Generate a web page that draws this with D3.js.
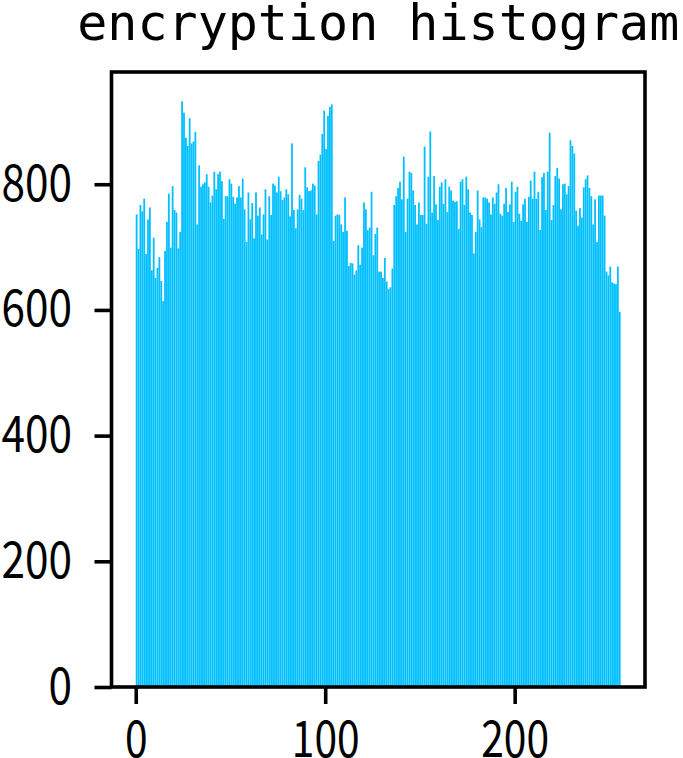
<!DOCTYPE html>
<html>
    <head>
        <meta charset="utf-8">
        <script src="https://d3js.org/d3.v7.min.js"></script>
        <style>
            body { margin:0; background:#fff; }
            svg { display:block; }
            .title { font-family:"DejaVu Sans Mono", monospace; font-size:50px; fill:#000; }
            .axis text { font-family:"Noto Sans CJK SC", sans-serif; font-size:50px; fill:#000; }
            .axis line { stroke:#000; stroke-width:3.6px; }
            .axis path { display:none; }
            .frame { fill:none; stroke:#000; stroke-width:3.6px; }
            .bar { fill:#00bfff; }
        </style>
    </head>
    <body>
        <div id="chart"></div>
        <script>
            // pixel counts per grey level 0..255
            var counts = [
                752,697,767,757,777,689,744,763,663,715,
                651,667,684,646,614,694,740,785,699,797,
                759,755,698,724,932,914,874,861,905,865,
                868,883,736,830,796,800,803,816,796,771,
                782,820,792,816,820,805,745,781,781,808,
                801,780,769,779,797,779,809,760,708,787,
                744,770,714,787,750,763,720,752,792,712,
                781,751,801,798,787,812,789,775,779,792,
                784,749,865,759,730,760,783,777,759,827,
                795,789,790,801,798,752,837,847,880,917,
                856,909,923,927,710,750,752,751,736,724,
                779,726,670,675,674,656,663,703,672,699,
                771,760,727,731,788,687,721,731,661,661,
                651,683,645,633,636,666,767,781,794,804,
                776,844,724,777,820,818,790,767,736,771,
                751,751,860,737,812,884,755,813,768,743,
                796,803,769,808,756,796,790,774,772,773,
                729,804,808,767,812,792,755,751,690,724,
                790,744,732,779,779,777,771,752,779,769,
                787,800,753,750,769,794,756,768,804,740,
                788,796,753,742,768,777,740,780,806,777,
                820,777,788,727,811,818,759,820,882,743,
                767,813,826,809,760,800,801,784,797,870,
                861,849,758,734,762,747,795,808,814,794,
                781,736,776,708,782,782,782,750,661,655,
                669,644,642,641,669,597
            ];
            var xTicks = [0, 100, 200];
            var yTicks = [0, 200, 400, 600, 800];
            var titleText = "encryption histogram";

            var W = 683, H = 758;
            var plot = {left:111.5, right:645, top:72, bottom:687};

            var svg = d3.select("#chart").append("svg")
                .attr("width", W)
                .attr("height", H);

            var nBins = counts.length;
            var pad = nBins * 0.05;
            var x = d3.scaleLinear()
                .domain([-pad, nBins + pad])
                .range([plot.left, plot.right]);
            var yMax = d3.max(counts) * 1.05;
            var y = d3.scaleLinear()
                .domain([0, yMax])
                .range([plot.bottom, plot.top]);

            svg.append("g")
                .selectAll("rect")
                .data(counts)
                .enter().append("rect")
                .attr("class", "bar")
                .attr("x", function(d, i) { return x(i); })
                .attr("width", function(d, i) { return x(i + 1) - x(i) - 0.12; })
                .attr("y", function(d) { return y(d); })
                .attr("height", function(d) { return y(0) - y(d); });

            var tickLen = 17, yPad = 22.5;
            var xAxis = d3.axisBottom(x).tickValues(xTicks).tickSize(tickLen);
            var yAxis = d3.axisLeft(y).tickValues(yTicks).tickSize(tickLen);

            // narrow digits like the original font; anchor by hand since
            // textLength does not move the anchor point
            function labelLen(d, perChar) { return String(d).length * perChar; }

            var gx = svg.append("g")
                .attr("class", "axis axis--x")
                .attr("transform", "translate(0," + plot.bottom + ")")
                .call(xAxis);
            gx.selectAll(".tick text")
                .attr("text-anchor", "start")
                .attr("x", function(d) { return -labelLen(d, 22.6) / 2; })
                .attr("y", 70)
                .attr("dy", 0)
                .attr("textLength", function(d) { return labelLen(d, 22.6); })
                .attr("lengthAdjust", "spacingAndGlyphs");

            var gy = svg.append("g")
                .attr("class", "axis axis--y")
                .attr("transform", "translate(" + plot.left + ",0)")
                .call(yAxis);
            gy.selectAll(".tick text")
                .attr("text-anchor", "start")
                .attr("x", function(d) { return -(tickLen + yPad) - labelLen(d, 23.5); })
                .attr("textLength", function(d) { return labelLen(d, 23.5); })
                .attr("lengthAdjust", "spacingAndGlyphs");

            svg.append("rect")
                .attr("class", "frame")
                .attr("x", plot.left)
                .attr("y", plot.top)
                .attr("width", plot.right - plot.left)
                .attr("height", plot.bottom - plot.top);

            svg.append("text")
                .attr("class", "title")
                .attr("x", (plot.left + plot.right) / 2)
                .attr("y", 40)
                .attr("text-anchor", "middle")
                .text(titleText);
        </script>
    </body>
</html>
